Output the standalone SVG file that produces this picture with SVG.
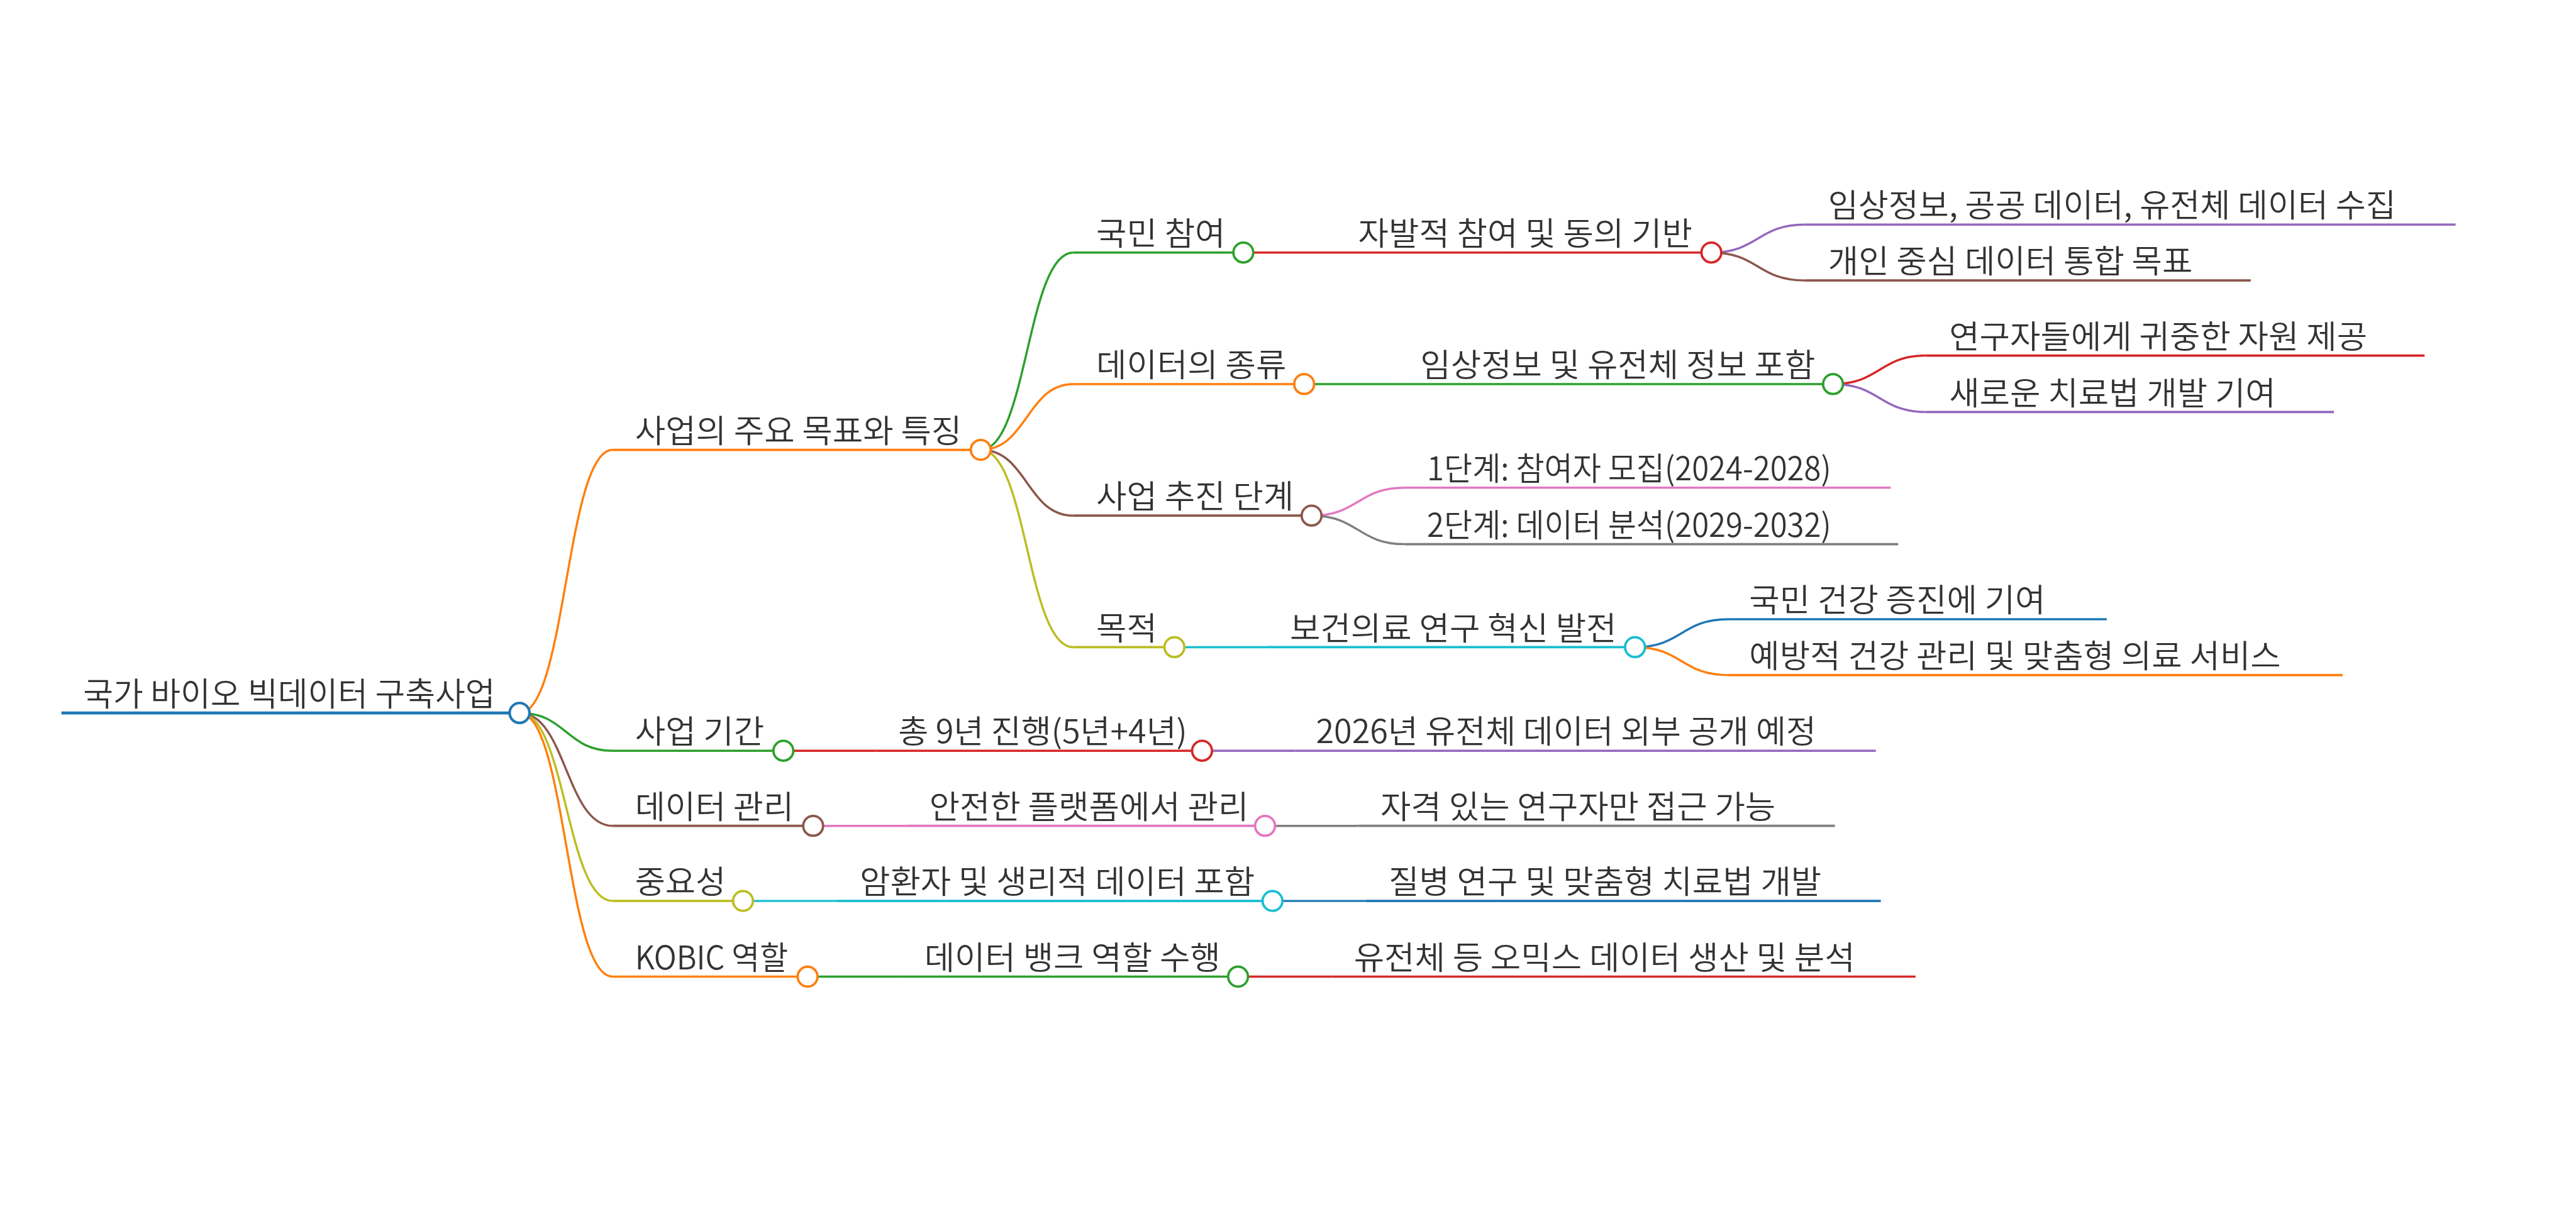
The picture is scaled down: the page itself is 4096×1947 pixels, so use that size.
<svg xmlns="http://www.w3.org/2000/svg" width="4096" height="1947" viewBox="0 0 4096 1947">
<style>
  text { font-family: "Noto Sans CJK KR", "Noto Sans", sans-serif; font-size: 52px; font-weight: 350; fill: #333; }
  .root text { font-size: 53px; }
  .ln { fill: none; stroke-width: 3.7; }
  .lk { fill: none; stroke-width: 3.5; }
  .ci { fill: #fff; stroke-width: 3.8; }
  .blue { stroke: #1f77b4; } .orange { stroke: #ff7f0e; } .green { stroke: #2ca02c; }
  .red { stroke: #d62728; } .purple { stroke: #9467bd; } .brown { stroke: #8c564b; }
  .pink { stroke: #e377c2; } .gray { stroke: #7f7f7f; } .olive { stroke: #bcbd22; } .cyan { stroke: #17becf; }
</style>
<rect width="4096" height="1947" fill="#fff"/>
<g transform="scale(0.987)">
  <g id="connectors">
    <path class="lk orange" d="M837,1149 C912,1149 912,725 987,725"/>
    <path class="lk green" d="M837,1149 C912,1149 912,1210 987,1210"/>
    <path class="lk brown" d="M837,1149 C912,1149 912,1331 987,1331"/>
    <path class="lk olive" d="M837,1149 C912,1149 912,1452 987,1452"/>
    <path class="lk orange" d="M837,1149 C912,1149 912,1574 987,1574"/>
    <path class="lk green" d="M1580,725 C1654.5,725 1654.5,407 1729,407"/>
    <path class="lk orange" d="M1580,725 C1654.5,725 1654.5,619 1729,619"/>
    <path class="lk brown" d="M1580,725 C1654.5,725 1654.5,831 1729,831"/>
    <path class="lk olive" d="M1580,725 C1654.5,725 1654.5,1043 1729,1043"/>
    <path class="lk red" d="M2003,407 L2153,407"/>
    <path class="lk green" d="M2101,619 L2251,619"/>
    <path class="lk pink" d="M2113,831 C2188,831 2188,786 2263,786"/>
    <path class="lk gray" d="M2113,831 C2188,831 2188,877 2263,877"/>
    <path class="lk cyan" d="M1892,1043 L2042,1043"/>
    <path class="lk purple" d="M2757,407 C2832,407 2832,362 2907,362"/>
    <path class="lk brown" d="M2757,407 C2832,407 2832,452 2907,452"/>
    <path class="lk red" d="M2953,619 C3028,619 3028,573 3103,573"/>
    <path class="lk purple" d="M2953,619 C3028,619 3028,664 3103,664"/>
    <path class="lk blue" d="M2634,1043 C2709,1043 2709,998 2784,998"/>
    <path class="lk orange" d="M2634,1043 C2709,1043 2709,1088 2784,1088"/>
    <path class="lk red" d="M1262,1210 L1412,1210"/>
    <path class="lk purple" d="M1936.5,1210 L2086.5,1210"/>
    <path class="lk pink" d="M1310,1331 L1460,1331"/>
    <path class="lk gray" d="M2038,1331 L2188,1331"/>
    <path class="lk cyan" d="M1197,1452 L1347,1452"/>
    <path class="lk blue" d="M2050,1452 L2200,1452"/>
    <path class="lk green" d="M1301,1574 L1451,1574"/>
    <path class="lk red" d="M1994.5,1574 L2144.5,1574"/>
  </g>

  <g id="node-root" class="root">
    <path class="ln blue" style="stroke-width:4.8" d="M99,1149 H837"/>
    <circle class="ci blue" style="stroke-width:4.2" cx="837" cy="1149" r="16"/>
    <text transform="translate(134,1138) scale(0.992,1)">국가 바이오 빅데이터 구축사업</text>
  </g>

  <g id="node-goals">
    <path class="ln orange" d="M987,725 H1580"/>
    <circle class="ci orange" cx="1580" cy="725" r="16"/>
    <text transform="translate(1023,713) scale(1.026,1)">사업의 주요 목표와 특징</text>
  </g>
  <g id="node-period">
    <path class="ln green" d="M987,1210 H1262"/>
    <circle class="ci green" cx="1262" cy="1210" r="16"/>
    <text transform="translate(1023,1198) scale(1.026,1)">사업 기간</text>
  </g>
  <g id="node-datamgmt">
    <path class="ln brown" d="M987,1331 H1310"/>
    <circle class="ci brown" cx="1310" cy="1331" r="16"/>
    <text transform="translate(1023,1319) scale(1.02,1)">데이터 관리</text>
  </g>
  <g id="node-importance">
    <path class="ln olive" d="M987,1452 H1197"/>
    <circle class="ci olive" cx="1197" cy="1452" r="16"/>
    <text transform="translate(1023,1440) scale(1.02,1)">중요성</text>
  </g>
  <g id="node-kobic">
    <path class="ln orange" d="M987,1574 H1301"/>
    <circle class="ci orange" cx="1301" cy="1574" r="16"/>
    <text transform="translate(1023,1562) scale(0.95,1)">KOBIC 역할</text>
  </g>

  <g id="node-participation">
    <path class="ln green" d="M1729,407 H2003"/>
    <circle class="ci green" cx="2003" cy="407" r="16"/>
    <text transform="translate(1766,395) scale(1.026,1)">국민 참여</text>
  </g>
  <g id="node-datatype">
    <path class="ln orange" d="M1729,619 H2101"/>
    <circle class="ci orange" cx="2101" cy="619" r="16"/>
    <text transform="translate(1766,607) scale(1.026,1)">데이터의 종류</text>
  </g>
  <g id="node-stages">
    <path class="ln brown" d="M1729,831 H2113"/>
    <circle class="ci brown" cx="2113" cy="831" r="16"/>
    <text transform="translate(1766,819) scale(1.026,1)">사업 추진 단계</text>
  </g>
  <g id="node-purpose">
    <path class="ln olive" d="M1729,1043 H1892"/>
    <circle class="ci olive" cx="1892" cy="1043" r="16"/>
    <text transform="translate(1766,1031) scale(1.026,1)">목적</text>
  </g>

  <g id="node-voluntary">
    <path class="ln red" d="M2153,407 H2757"/>
    <circle class="ci red" cx="2757" cy="407" r="16"/>
    <text transform="translate(2188,395) scale(1.026,1)">자발적 참여 및 동의 기반</text>
  </g>
  <g id="node-clinical">
    <path class="ln green" d="M2251,619 H2953"/>
    <circle class="ci green" cx="2953" cy="619" r="16"/>
    <text transform="translate(2288,607) scale(1.026,1)">임상정보 및 유전체 정보 포함</text>
  </g>
  <g id="node-stage1">
    <path class="ln pink" d="M2263,786 H3046"/>
    <text transform="translate(2299,774) scale(0.956,1)">1단계: 참여자 모집(2024-2028)</text>
  </g>
  <g id="node-stage2">
    <path class="ln gray" d="M2263,877 H3058"/>
    <text transform="translate(2299,865) scale(0.956,1)">2단계: 데이터 분석(2029-2032)</text>
  </g>
  <g id="node-innovation">
    <path class="ln cyan" d="M2042,1043 H2634"/>
    <circle class="ci cyan" cx="2634" cy="1043" r="16"/>
    <text transform="translate(2078,1031) scale(1.026,1)">보건의료 연구 혁신 발전</text>
  </g>

  <g id="node-collect">
    <path class="ln purple" d="M2907,362 H3956"/>
    <text transform="translate(2945,350) scale(1.018,1)">임상정보, 공공 데이터, 유전체 데이터 수집</text>
  </g>
  <g id="node-integrate">
    <path class="ln brown" d="M2907,452 H3626"/>
    <text transform="translate(2945,440) scale(1.026,1)">개인 중심 데이터 통합 목표</text>
  </g>
  <g id="node-resource">
    <path class="ln red" d="M3103,573 H3906"/>
    <text transform="translate(3140,561) scale(1.026,1)">연구자들에게 귀중한 자원 제공</text>
  </g>
  <g id="node-therapy">
    <path class="ln purple" d="M3103,664 H3760"/>
    <text transform="translate(3140,652) scale(1.026,1)">새로운 치료법 개발 기여</text>
  </g>
  <g id="node-health">
    <path class="ln blue" d="M2784,998 H3394"/>
    <text transform="translate(2818,986) scale(1.026,1)">국민 건강 증진에 기여</text>
  </g>
  <g id="node-preventive">
    <path class="ln orange" d="M2784,1088 H3774"/>
    <text transform="translate(2818,1076) scale(1.026,1)">예방적 건강 관리 및 맞춤형 의료 서비스</text>
  </g>

  <g id="node-9years">
    <path class="ln red" d="M1412,1210 H1936.5"/>
    <circle class="ci red" cx="1936.5" cy="1210" r="16"/>
    <text transform="translate(1447,1198) scale(1.015,1)">총 9년 진행(5년+4년)</text>
  </g>
  <g id="node-2026">
    <path class="ln purple" d="M2086.5,1210 H3022"/>
    <text transform="translate(2120,1198) scale(1.015,1)">2026년 유전체 데이터 외부 공개 예정</text>
  </g>
  <g id="node-platform">
    <path class="ln pink" d="M1460,1331 H2038"/>
    <circle class="ci pink" cx="2038" cy="1331" r="16"/>
    <text transform="translate(1497,1319) scale(1.026,1)">안전한 플랫폼에서 관리</text>
  </g>
  <g id="node-access">
    <path class="ln gray" d="M2188,1331 H2956"/>
    <text transform="translate(2224,1319) scale(1.026,1)">자격 있는 연구자만 접근 가능</text>
  </g>
  <g id="node-cancer">
    <path class="ln cyan" d="M1347,1452 H2050"/>
    <circle class="ci cyan" cx="2050" cy="1452" r="16"/>
    <text transform="translate(1385,1440) scale(1.026,1)">암환자 및 생리적 데이터 포함</text>
  </g>
  <g id="node-disease">
    <path class="ln blue" d="M2200,1452 H3030"/>
    <text transform="translate(2237,1440) scale(1.026,1)">질병 연구 및 맞춤형 치료법 개발</text>
  </g>
  <g id="node-databank">
    <path class="ln green" d="M1451,1574 H1994.5"/>
    <circle class="ci green" cx="1994.5" cy="1574" r="16"/>
    <text transform="translate(1489,1562) scale(1.026,1)">데이터 뱅크 역할 수행</text>
  </g>
  <g id="node-omics">
    <path class="ln red" d="M2144.5,1574 H3086"/>
    <text transform="translate(2181,1562) scale(1.026,1)">유전체 등 오믹스 데이터 생산 및 분석</text>
  </g>
</g>
</svg>
